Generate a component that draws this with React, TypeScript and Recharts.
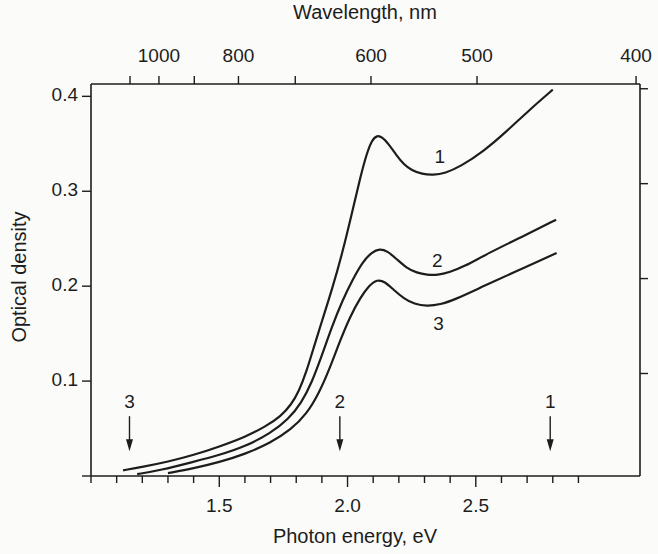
import React from "react";
import { LineChart, Line, XAxis, YAxis, ReferenceDot, ReferenceLine, Label } from "recharts";

// curve 1
const energy1 = [1.125, 1.2, 1.3, 1.4, 1.5, 1.6, 1.68, 1.74, 1.78, 1.81, 1.84, 1.87, 1.9, 1.94, 1.98, 2.02, 2.05, 2.075, 2.095, 2.115, 2.135, 2.16, 2.19, 2.22, 2.25, 2.29, 2.335, 2.38, 2.44, 2.53, 2.62, 2.71, 2.8];
const density1 = [0.006, 0.0095, 0.015, 0.022, 0.031, 0.041, 0.052, 0.063, 0.075, 0.089, 0.11, 0.137, 0.163, 0.197, 0.235, 0.28, 0.315, 0.34, 0.354, 0.359, 0.357, 0.35, 0.338, 0.328, 0.322, 0.318, 0.317, 0.319, 0.326, 0.342, 0.363, 0.386, 0.407];

// curve 2
const energy2 = [1.18, 1.27, 1.4, 1.5, 1.6, 1.7, 1.77, 1.82, 1.86, 1.9, 1.94, 1.98, 2.02, 2.06, 2.095, 2.125, 2.155, 2.19, 2.23, 2.27, 2.31, 2.35, 2.4, 2.45, 2.55, 2.68, 2.813];
const density2 = [0.002, 0.006, 0.015, 0.022, 0.031, 0.045, 0.06, 0.077, 0.098, 0.127, 0.158, 0.185, 0.207, 0.226, 0.236, 0.2395, 0.237, 0.229, 0.219, 0.214, 0.212, 0.2115, 0.215, 0.22, 0.235, 0.252, 0.27];

// curve 3
const energy3 = [1.3, 1.4, 1.5, 1.6, 1.7, 1.78, 1.84, 1.89, 1.93, 1.97, 2.01, 2.05, 2.085, 2.115, 2.145, 2.18, 2.22, 2.26, 2.31, 2.36, 2.42, 2.53, 2.66, 2.815];
const density3 = [0.003, 0.008, 0.0145, 0.023, 0.035, 0.049, 0.065, 0.088, 0.113, 0.142, 0.168, 0.188, 0.201, 0.207, 0.205, 0.196, 0.187, 0.181, 0.179, 0.1805, 0.186, 0.2, 0.216, 0.235];

const curveNames = ["1", "2", "3"];
const curveLabelEnergy = [2.36, 2.35, 2.355];
const curveLabelDensity = [0.335, 0.226, 0.159];

// laser lines marked by arrows
const arrowNames = ["3", "2", "1"];
const arrowEnergy = [1.15, 1.97, 2.79];
const arrowTop = 0.063;
const arrowTip = 0.026;
const arrowLabel = 0.077;

const energyTicks = [1.0, 1.1, 1.2, 1.3, 1.4, 1.5, 1.6, 1.7, 1.8, 1.9, 2.0, 2.1, 2.2, 2.3, 2.4, 2.5, 2.6, 2.7, 2.8, 2.9];
const energyLabels = [1.5, 2.0, 2.5];
const wavelengthTicks = [1100, 1000, 900, 800, 700, 600, 500, 400];
const wavelengthLabels = [1000, 800, 600, 500, 400];
const densityTicks = [0, 0.1, 0.2, 0.3, 0.4];
const densityLabels = [0.1, 0.2, 0.3, 0.4];

const HC = 1239.84;
const xDomain = [1.0, 3.14];
const yDomain = [0, 0.413];
// the scanned original is slightly rotated: top and right frames sit a few px off
const topDomain = [0.975, 3.115];
const rightDomain = [-0.008, 0.405];
const wavelengthTickEnergy = wavelengthTicks.map((w) => HC / w);

const ink = "#1d1d1d";
const font = "'Liberation Sans', Arial, sans-serif";
const fs = 19;
const titleFs = 20;

const toSeries = (e: number[], d: number[]) => e.map((v, i) => ({ e: v, od: d[i] }));
const series = [toSeries(energy1, density1), toSeries(energy2, density2), toSeries(energy3, density3)];

const near = (a: number, list: number[]) => list.some((b) => Math.abs(a - b) < 1e-6);

function BottomTick(props: any) {
  const { x, y, payload } = props;
  const major = near(payload.value, energyLabels);
  return (
    <g>
      <line x1={x} y1={y} x2={x} y2={y + (major ? 11 : 7)} stroke={ink} strokeWidth={1.4} />
      {major && (
        <text x={x} y={y + 31} textAnchor="middle" dominantBaseline="middle" fontSize={fs} fontFamily={font} fill={ink}>
          {payload.value.toFixed(1)}
        </text>
      )}
    </g>
  );
}

function TopTick(props: any) {
  const { x, y, payload } = props;
  const nm = Math.round(HC / payload.value / 100) * 100;
  return (
    <g>
      <line x1={x} y1={y} x2={x} y2={y - 8} stroke={ink} strokeWidth={1.4} />
      {near(nm, wavelengthLabels) && (
        <text x={x} y={y - 27} textAnchor="middle" dominantBaseline="middle" fontSize={fs} fontFamily={font} fill={ink}>
          {nm}
        </text>
      )}
    </g>
  );
}

function LeftTick(props: any) {
  const { x, y, payload } = props;
  return (
    <g>
      <line x1={x} y1={y} x2={x - 9} y2={y} stroke={ink} strokeWidth={1.4} />
      {near(payload.value, densityLabels) && (
        <text x={x - 13} y={y} textAnchor="end" dominantBaseline="middle" fontSize={fs} fontFamily={font} fill={ink}>
          {payload.value.toFixed(1)}
        </text>
      )}
    </g>
  );
}

function RightTick(props: any) {
  const { x, y } = props;
  return <line x1={x} y1={y} x2={x + 8} y2={y} stroke={ink} strokeWidth={1.4} />;
}

const TextMark = (n: string) => (p: any) => (
  <text x={p.cx} y={p.cy} textAnchor="middle" dominantBaseline="middle" fontSize={fs} fontFamily={font} fill={ink}>
    {n}
  </text>
);

const ArrowHead = (p: any) => (
  <polygon points={`${p.cx - 3.5},${p.cy - 12} ${p.cx + 3.5},${p.cy - 12} ${p.cx},${p.cy}`} fill={ink} />
);

export default function App() {
  return (
    <div style={{ position: "absolute", left: 0, top: 0, width: 658, height: 554, background: "#fbfbf9" }}>
      <LineChart width={658} height={554} margin={{ top: 54, right: 8, bottom: 28, left: 31 }}>
        <XAxis
          dataKey="e"
          type="number"
          domain={xDomain}
          ticks={energyTicks}
          interval={0}
          allowDataOverflow
          height={50}
          stroke={ink}
          strokeWidth={1.6}
          tickSize={0}
          tickMargin={0}
          tickLine={false}
          tick={<BottomTick />}
        >
          <Label
            content={(p: any) => (
              <text x={355} y={p.viewBox.y + 62} textAnchor="middle" dominantBaseline="middle" fontSize={titleFs} fontFamily={font} fill={ink}>
                Photon energy, eV
              </text>
            )}
          />
        </XAxis>
        <XAxis
          xAxisId="top"
          dataKey="e"
          orientation="top"
          type="number"
          domain={topDomain}
          ticks={wavelengthTickEnergy}
          interval={0}
          allowDataOverflow
          height={30}
          stroke={ink}
          strokeWidth={1.6}
          tickSize={0}
          tickMargin={0}
          tickLine={false}
          tick={<TopTick />}
        >
          <Label
            content={(p: any) => (
              <text x={365} y={p.viewBox.y - 40} textAnchor="middle" dominantBaseline="middle" fontSize={titleFs} fontFamily={font} fill={ink}>
                Wavelength, nm
              </text>
            )}
          />
        </XAxis>
        <YAxis
          type="number"
          domain={yDomain}
          ticks={densityTicks}
          interval={0}
          allowDataOverflow
          width={60}
          stroke={ink}
          strokeWidth={1.6}
          tickSize={0}
          tickMargin={0}
          tickLine={false}
          tick={<LeftTick />}
        >
          <Label
            content={() => (
              <text
                x={21}
                y={277}
                transform="rotate(-90 21 277)"
                textAnchor="middle"
                dominantBaseline="middle"
                fontSize={titleFs}
                fontFamily={font}
                fill={ink}
              >
                Optical density
              </text>
            )}
          />
        </YAxis>
        <YAxis
          yAxisId="right"
          orientation="right"
          type="number"
          domain={rightDomain}
          ticks={densityLabels}
          interval={0}
          allowDataOverflow
          width={10}
          stroke={ink}
          strokeWidth={1.6}
          tickSize={0}
          tickMargin={0}
          tickLine={false}
          tick={<RightTick />}
        />
        {series.map((s, i) => (
          <Line
            key={i}
            data={s}
            dataKey="od"
            type="basis"
            stroke={ink}
            strokeWidth={2.2}
            dot={false}
            activeDot={false}
            isAnimationActive={false}
          />
        ))}
        {curveNames.map((n, i) => (
          <ReferenceDot key={"c" + n} x={curveLabelEnergy[i]} y={curveLabelDensity[i]} r={0} shape={TextMark(n)} />
        ))}
        {arrowNames.map((n, i) => (
          <ReferenceLine
            key={"s" + n}
            segment={[
              { x: arrowEnergy[i], y: arrowTop },
              { x: arrowEnergy[i], y: arrowTip + 0.008 },
            ]}
            stroke={ink}
            strokeWidth={1.4}
          />
        ))}
        {arrowNames.map((n, i) => (
          <ReferenceDot key={"h" + n} x={arrowEnergy[i]} y={arrowTip} r={0} shape={ArrowHead} />
        ))}
        {arrowNames.map((n, i) => (
          <ReferenceDot key={"l" + n} x={arrowEnergy[i]} y={arrowLabel} r={0} shape={TextMark(n)} />
        ))}
      </LineChart>
    </div>
  );
}
